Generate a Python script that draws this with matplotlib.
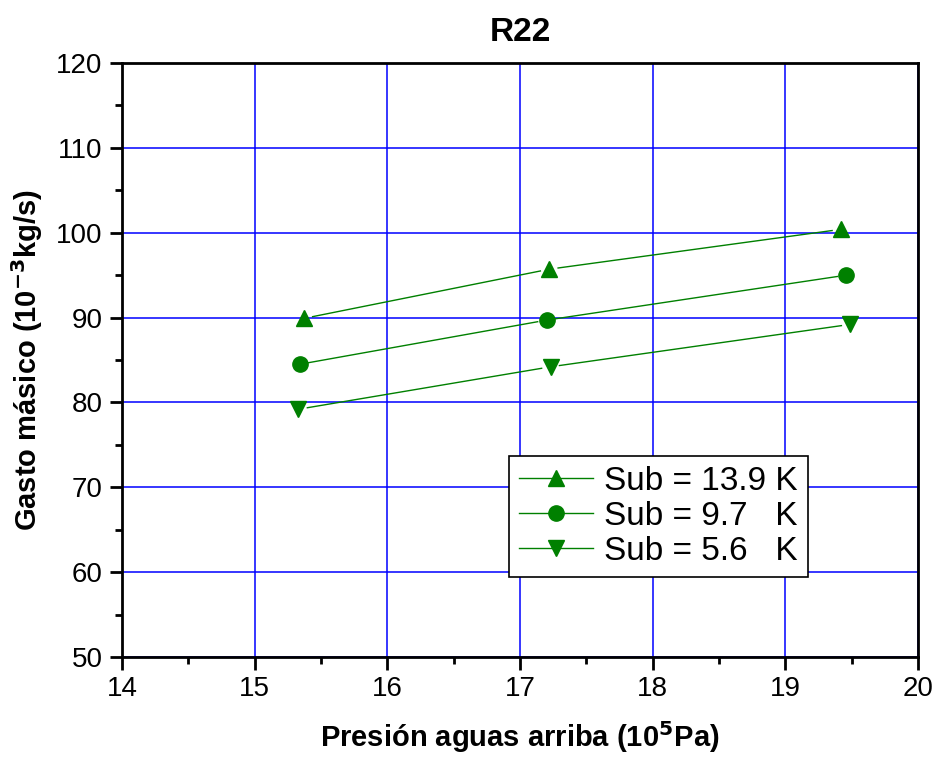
import numpy as np
import matplotlib.pyplot as plt
from matplotlib.ticker import MultipleLocator

plt.rcParams['font.family'] = ['Liberation Sans', 'DejaVu Sans']

# datos
p_sub139 = [15.37, 17.22, 19.42]
m_sub139 = [89.9, 95.7, 100.4]
p_sub97 = [15.34, 17.20, 19.46]
m_sub97 = [84.5, 89.7, 95.0]
p_sub56 = [15.33, 17.23, 19.49]
m_sub56 = [79.2, 84.2, 89.2]
labels = ['Sub = 13.9 K', 'Sub = 9.7   K', 'Sub = 5.6   K']
markers = ['^', 'o', 'v']

fig = plt.figure(figsize=(9.35, 7.58), dpi=100)
ax = fig.add_axes([0.1305, 0.1332, 0.8513, 0.7837])
ax.set_xlim(14, 20)
ax.set_ylim(50, 120)
ax.xaxis.set_major_locator(MultipleLocator(1))
ax.xaxis.set_minor_locator(MultipleLocator(0.5))
ax.yaxis.set_major_locator(MultipleLocator(10))
ax.yaxis.set_minor_locator(MultipleLocator(5))
ax.grid(True, which='major', color='#0000ff', linewidth=1.1)
ax.set_axisbelow(True)
ax.tick_params(which='major', direction='out', length=9, width=2, labelsize=20, pad=5)
ax.tick_params(which='minor', direction='out', length=5, width=2)
for s in ax.spines.values():
    s.set_linewidth(2)

green = '#008000'
series = [(p_sub139, m_sub139), (p_sub97, m_sub97), (p_sub56, m_sub56)]
fig.canvas.draw()
gap = 9  # px de separacion entre linea y marcador
for (x, y), mk, lab in zip(series, markers, labels):
    pts = ax.transData.transform(np.column_stack([x, y]))
    for a, b in zip(pts[:-1], pts[1:]):
        d = (b - a) / np.hypot(*(b - a))
        seg = ax.transData.inverted().transform([a + d * gap, b - d * gap])
        ax.plot(seg[:, 0], seg[:, 1], color=green, linewidth=1)
    ax.plot(x, y, linestyle='none', marker=mk, markersize=11, color=green)
    ax.plot([], [], color=green, linewidth=1, marker=mk, markersize=11, label=lab)

leg = ax.legend(loc='lower left', bbox_to_anchor=(0.4655, 0.107), fontsize=24,
                frameon=True, fancybox=False, edgecolor='black', framealpha=1,
                handlelength=2.2, borderpad=0.3, labelspacing=0.12, handletextpad=0.35)
leg.get_frame().set_linewidth(1.2)

ax.set_title('R22', fontsize=24, fontweight='bold', pad=16)
ax.set_xlabel('Presión aguas arriba (10$^{\\mathbf{5}}$Pa)', fontsize=21, fontweight='bold', labelpad=12)
ax.set_ylabel('Gasto másico (10$^{\\mathbf{-3}}$kg/s)', fontsize=21, fontweight='bold', labelpad=8)

fig.savefig('out.png', dpi=100)
